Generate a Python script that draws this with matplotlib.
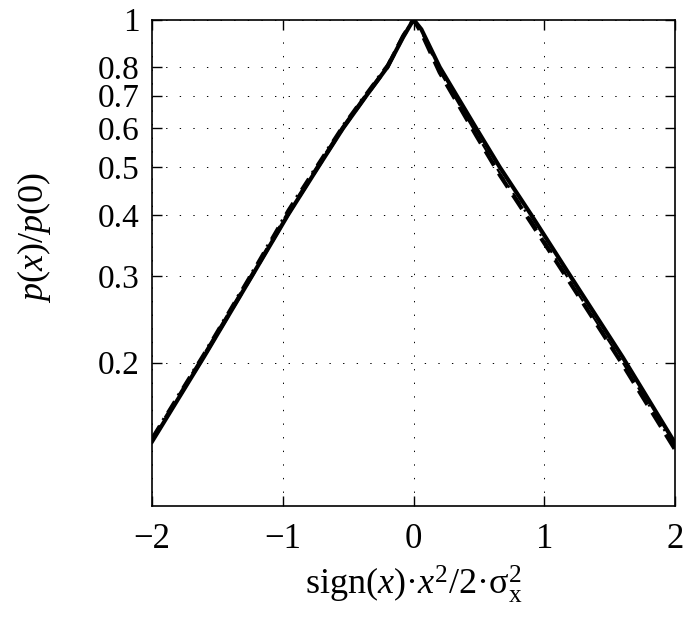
import matplotlib
matplotlib.use('Agg')
import matplotlib.pyplot as plt

plt.rcParams['font.family'] = ['Liberation Serif', 'DejaVu Serif']
plt.rcParams['mathtext.fontset'] = 'custom'
plt.rcParams['mathtext.rm'] = 'Liberation Serif'
plt.rcParams['mathtext.it'] = 'Liberation Serif:italic'
plt.rcParams['mathtext.bf'] = 'Liberation Serif:bold'

# sampled normalised densities p(x)/p(0)
x_pts = [-2.0, -1.6, -1.23, -0.96, -0.73, -0.54, -0.36, -0.2, -0.08, 0.0,
         0.06, 0.2, 0.33, 0.48, 0.66, 0.9, 1.2, 1.6, 2.0]
p_solid = [0.138, 0.206, 0.302, 0.4, 0.5, 0.6, 0.7, 0.8, 0.92, 1.0,
           0.955, 0.8, 0.7, 0.6, 0.5, 0.4, 0.3, 0.205, 0.137]
p_dashed = [0.139, 0.207, 0.303, 0.402, 0.502, 0.602, 0.702, 0.8, 0.925, 1.0,
            0.94, 0.78, 0.68, 0.58, 0.482, 0.385, 0.29, 0.198, 0.133]
p_dashdot = [0.141, 0.21, 0.308, 0.41, 0.51, 0.61, 0.71, 0.81, 0.93, 1.0,
             0.945, 0.785, 0.685, 0.585, 0.486, 0.39, 0.292, 0.2, 0.134]

yticks = [0.2, 0.3, 0.4, 0.5, 0.6, 0.7, 0.8, 1]
yticklabels = ['0.2', '0.3', '0.4', '0.5', '0.6', '0.7', '0.8', '1']
xticks = [-2, -1, 0, 1, 2]
xticklabels = ['\u22122', '\u22121', '0', '1', '2']

fig = plt.figure(figsize=(6.86, 6.22), dpi=100)
ax = fig.add_axes([0.2216, 0.1865, 0.7624, 0.7821])

ax.plot(x_pts, p_solid, color='k', lw=3.0, solid_joinstyle='miter')
ax.plot(x_pts, p_dashed, color='k', lw=3.0, dashes=(4, 2.2))
ax.plot(x_pts, p_dashdot, color='k', lw=1.6, dashes=(6, 3, 1, 3))

ax.set_yscale('log')
ax.set_xlim(-2, 2)
ax.set_ylim(0.102, 1)
ax.set_yticks(yticks)
ax.set_yticklabels(yticklabels)
ax.yaxis.set_minor_locator(matplotlib.ticker.NullLocator())
ax.set_xticks(xticks)
ax.set_xticklabels(xticklabels)

ax.grid(True, color='k', lw=0.7, linestyle=(0, (1.4, 12.6)))
ax.tick_params(direction='in', length=7, width=1, top=True, right=True)
ax.tick_params(axis='x', pad=12, labelsize=25)
ax.tick_params(axis='y', pad=9, labelsize=24)
for s in ax.spines.values():
    s.set_linewidth(1.2)

ax.set_xlabel('sign($x$)\u00b7$x^2$/2\u00b7\u03c3$_{\\mathrm{x}}^{2}$', fontsize=26)
ax.xaxis.set_label_coords(0.5, -0.118)
ax.set_ylabel(r'$p(x)/p(0)$', fontsize=26)
ax.yaxis.set_label_coords(-0.19, 0.552)

fig.savefig('out.png', dpi=100)
